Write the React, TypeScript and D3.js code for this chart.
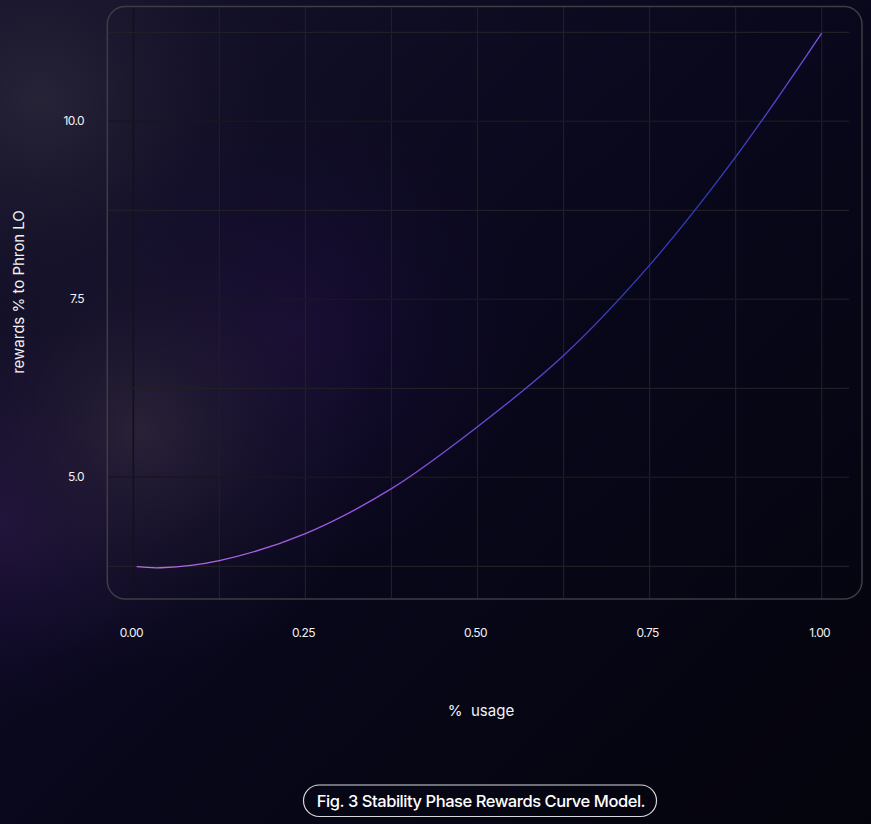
import React from "react";
import * as d3 from "d3";

const usage = [0.005, 0.04, 0.125, 0.25, 0.375, 0.5, 0.625, 0.75, 0.875, 1.0];
const rewards = [3.745, 3.73, 3.83, 4.21, 4.84, 5.71, 6.71, 7.98, 9.5, 11.24];
const xGrid = [0, 0.125, 0.25, 0.375, 0.5, 0.625, 0.75, 0.875, 1.0];
const yGrid = [3.75, 5.0, 6.25, 7.5, 8.75, 10.0, 11.25];
const xTickLabels = ["0.00", "0.25", "0.50", "0.75", "1.00"];
const xTickValues = [0, 0.25, 0.5, 0.75, 1.0];
const yTickLabels = ["5.0", "7.5", "10.0"];
const yTickValues = [5.0, 7.5, 10.0];
const xTitle = "% usage";
const yTitle = "rewards % to Phron LO";
const caption = "Fig. 3 Stability Phase Rewards Curve Model.";

const W = 871;
const H = 824;

export default function App() {
  const x = d3.scaleLinear().domain([0, 1]).range([133.3, 821.7]);
  const y = d3.scaleLinear().domain([3.75, 11.25]).range([566.3, 32.3]);
  const pts: [number, number][] = usage.map((u, i) => [u, rewards[i]]);
  const line = d3
    .line<[number, number]>()
    .x((d) => x(d[0]))
    .y((d) => y(d[1]))
    .curve(d3.curveCatmullRom.alpha(0.5));
  const frame = { x0: 107.3, y0: 6.5, x1: 862, y1: 599 };
  const font = "Inter, 'Open Sans', sans-serif";

  return (
    <svg
      width={W}
      height={H}
      style={{ position: "absolute", left: 0, top: 0, display: "block" }}
    >
      <defs>
        <linearGradient id="bgLin" x1="0" y1="0" x2="1" y2="1">
          <stop offset="0" stopColor="#16132a" />
          <stop offset="0.45" stopColor="#09081d" />
          <stop offset="1" stopColor="#04040c" />
        </linearGradient>
        <radialGradient id="glowGray" cx="140" cy="430" r="240" gradientUnits="userSpaceOnUse">
          <stop offset="0" stopColor="#2c2439" stopOpacity="0.9" />
          <stop offset="0.5" stopColor="#221a34" stopOpacity="0.45" />
          <stop offset="1" stopColor="#1a1430" stopOpacity="0" />
        </radialGradient>
        <radialGradient id="glowPurple" cx="290" cy="330" r="240" gradientUnits="userSpaceOnUse">
          <stop offset="0" stopColor="#261048" stopOpacity="0.55" />
          <stop offset="0.6" stopColor="#1e0f3e" stopOpacity="0.22" />
          <stop offset="1" stopColor="#1a0c38" stopOpacity="0" />
        </radialGradient>
        <radialGradient id="glowTL" cx="40" cy="100" r="230" gradientUnits="userSpaceOnUse">
          <stop offset="0" stopColor="#282438" stopOpacity="0.95" />
          <stop offset="1" stopColor="#1a1630" stopOpacity="0" />
        </radialGradient>
        <radialGradient id="glowLeftLow" cx="0" cy="520" r="200" gradientUnits="userSpaceOnUse">
          <stop offset="0" stopColor="#2a1648" stopOpacity="0.8" />
          <stop offset="1" stopColor="#1a0c38" stopOpacity="0" />
        </radialGradient>
        <linearGradient
          id="curveGrad"
          gradientUnits="userSpaceOnUse"
          x1={x(0)}
          y1={y(3.75)}
          x2={x(1)}
          y2={y(11.25)}
        >
          <stop offset="0" stopColor="#b86ce6" />
          <stop offset="0.25" stopColor="#9656de" />
          <stop offset="0.45" stopColor="#6444d2" />
          <stop offset="0.62" stopColor="#3a3cc0" />
          <stop offset="0.78" stopColor="#3038b8" />
          <stop offset="0.9" stopColor="#4a40cc" />
          <stop offset="1" stopColor="#7e50e6" />
        </linearGradient>
        <clipPath id="frameClip">
          <rect x={frame.x0} y={frame.y0} width={frame.x1 - frame.x0} height={frame.y1 - frame.y0} rx={18} />
        </clipPath>
      </defs>

      <rect x={0} y={0} width={W} height={H} fill="url(#bgLin)" />
      <rect x={0} y={0} width={W} height={H} fill="url(#glowTL)" />
      <rect x={0} y={0} width={W} height={H} fill="url(#glowLeftLow)" />
      <rect x={0} y={0} width={W} height={H} fill="url(#glowPurple)" />
      <rect x={0} y={0} width={W} height={H} fill="url(#glowGray)" />

      <g clipPath="url(#frameClip)">
        {xGrid.map((v) => (
          <line
            key={"vx" + v}
            x1={x(v)}
            x2={x(v)}
            y1={frame.y0}
            y2={frame.y1}
            stroke={v === 0 ? "#131317" : "#1f1f25"}
            strokeWidth={v === 0 ? 1.6 : 1.2}
          />
        ))}
        {yGrid.map((v) => (
          <line
            key={"hy" + v}
            x1={frame.x0}
            x2={849}
            y1={y(v)}
            y2={y(v)}
            stroke={yTickValues.includes(v) ? "#17171c" : "#1f1f25"}
            strokeWidth={yTickValues.includes(v) ? 1.6 : 1.2}
          />
        ))}
        <path d={line(pts) || ""} fill="none" stroke="url(#curveGrad)" strokeWidth={1.35} />
      </g>

      <rect
        x={frame.x0}
        y={frame.y0}
        width={frame.x1 - frame.x0}
        height={frame.y1 - frame.y0}
        rx={18}
        fill="none"
        stroke="#3d3d44"
        strokeWidth={1.5}
      />

      {xTickValues.map((v, i) => (
        <text
          key={"xt" + v}
          x={x(v) - 2}
          y={637}
          textAnchor="middle"
          fill="#f2f2f5"
          fontSize={12}
          letterSpacing={-0.6}
          fontFamily={font}
        >
          {xTickLabels[i]}
        </text>
      ))}
      {yTickValues.map((v, i) => (
        <text
          key={"yt" + v}
          x={84}
          y={y(v) + 4}
          textAnchor="end"
          fill="#f2f2f5"
          fontSize={12}
          letterSpacing={-0.6}
          fontFamily={font}
        >
          {yTickLabels[i]}
        </text>
      ))}

      <text
        x={481}
        y={716}
        textAnchor="middle"
        fill="#f2f2f5"
        fontSize={15}
        fontFamily={font}
        style={{ whiteSpace: "pre" }}
      >
        {xTitle.replace(" ", "  ")}
      </text>
      <text
        transform={`translate(24,${292}) rotate(-90)`}
        textAnchor="middle"
        fill="#f2f2f5"
        fontSize={15}
        fontFamily={font}
      >
        {yTitle}
      </text>

      <rect
        x={303.5}
        y={785}
        width={353}
        height={31.5}
        rx={15.75}
        fill="none"
        stroke="#d8d8dc"
        strokeWidth={1.2}
      />
      <text
        x={481}
        y={806.5}
        textAnchor="middle"
        fill="#ffffff"
        fontSize={16.5}
        fontWeight={500}
        letterSpacing={-0.45}
        fontFamily={font}
      >
        {caption}
      </text>
    </svg>
  );
}
